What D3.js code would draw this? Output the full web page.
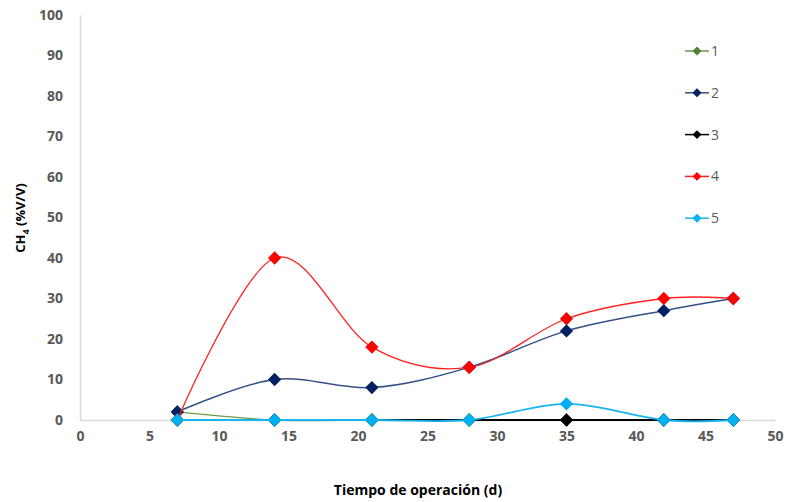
<!DOCTYPE html>
<html><head><meta charset="utf-8">
<script src="https://cdn.jsdelivr.net/npm/d3@7"></script>
<style>body{margin:0;background:#fff}svg{display:block}</style>
</head><body>
<svg id="c" width="789" height="502"></svg>
<script>
const days = [7, 14, 21, 28, 35, 42, 47];
const seriesNames = ["1", "2", "3", "4", "5"];
const s1 = [2, 0, 0, 0, 0, 0, 0];
const s2 = [2, 10, 8, 13, 22, 27, 30];
const s3 = [0, 0, 0, 0, 0, 0, 0];
const s4 = [0, 40, 18, 13, 25, 30, 30];
const s5 = [0, 0, 0, 0, 4, 0, 0];
const xTicks = [0, 5, 10, 15, 20, 25, 30, 35, 40, 45, 50];
const yTicks = [0, 10, 20, 30, 40, 50, 60, 70, 80, 90, 100];
const colors = ["#548235", "#002060", "#000000", "#ff0000", "#00b0f0"];
const lineColors = ["#6a9a4a", "#34508a", "#000000", "#ff2020", "#18b4ee"];
const lineWidths = [1.3, 1.5, 1.8, 1.3, 1.8];

const svg = d3.select("#c");
const x = d3.scaleLinear().domain([0, 50]).range([80, 775]);
const y = d3.scaleLinear().domain([0, 100]).range([420, 15]);
const font = "'Open Sans', 'DejaVu Sans', sans-serif";

// axes
const xa = svg.append("g").attr("transform", "translate(0,420)")
  .call(d3.axisBottom(x).tickValues(xTicks).tickSize(0).tickPadding(11));
const ya = svg.append("g").attr("transform", "translate(80,0)")
  .call(d3.axisLeft(y).tickValues(yTicks).tickSize(0).tickPadding(17));
[xa, ya].forEach(a => {
  a.select(".domain").attr("stroke", "#d9d9d9").attr("stroke-width", 1.5);
  a.selectAll("text").attr("font-family", font).attr("font-weight", 700)
    .attr("font-size", 14).attr("fill", "#595959");
});

// titles
svg.append("text").attr("x", 418).attr("y", 495).attr("text-anchor", "middle")
  .attr("font-family", font).attr("font-weight", 700).attr("font-size", 14)
  .attr("fill", "#000").text("Tiempo de operación (d)");
const yt = svg.append("text").attr("transform", "translate(25,218) rotate(-90)")
  .attr("text-anchor", "middle").attr("font-family", font).attr("font-weight", 700)
  .attr("font-size", 13).attr("fill", "#000");
yt.append("tspan").text("CH");
yt.append("tspan").attr("font-size", 9).attr("dy", 4).text("4");
yt.append("tspan").attr("dy", -4).text(" (%V/V)");

// series
const all = [s1, s2, s3, s4, s5];
const line = d3.line().x((d, i) => x(days[i])).y(d => y(d)).curve(d3.curveCardinal.tension(0));
const diamond = d3.symbol().type(d3.symbolSquare).size(88);
all.forEach((vals, k) => {
  const g = svg.append("g");
  g.append("path").attr("d", line(vals)).attr("fill", "none")
    .attr("stroke", lineColors[k]).attr("stroke-width", lineWidths[k]);
  g.selectAll("path.m").data(vals).enter().append("path").attr("class", "m")
    .attr("d", diamond)
    .attr("transform", (d, i) => `translate(${x(days[i])},${y(d)}) rotate(45)`)
    .attr("fill", colors[k]);
});

// legend
const lg = svg.append("g");
seriesNames.forEach((n, k) => {
  const ly = 51 + k * 41.8;
  lg.append("line").attr("x1", 685).attr("x2", 709).attr("y1", ly).attr("y2", ly)
    .attr("stroke", lineColors[k]).attr("stroke-width", 1.5);
  lg.append("path").attr("d", d3.symbol().type(d3.symbolSquare).size(40)())
    .attr("transform", `translate(697,${ly}) rotate(45)`).attr("fill", colors[k]);
  lg.append("text").attr("x", 711).attr("y", ly + 5).attr("font-family", font)
    .attr("font-size", 14).attr("fill", "#595959").text(n);
});
</script>
</body></html>
